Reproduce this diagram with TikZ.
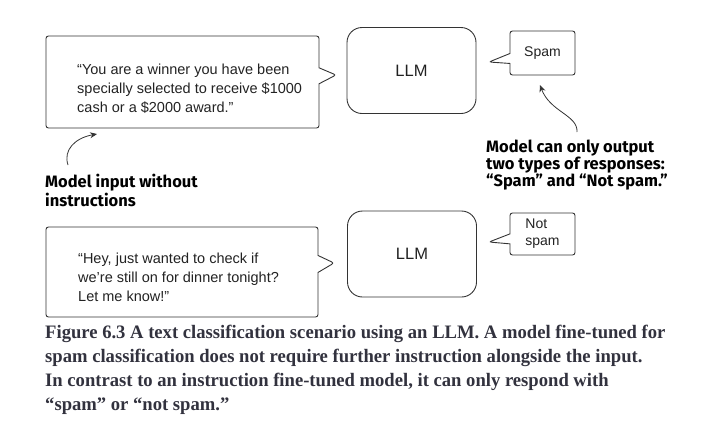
\documentclass[tikz,border=0pt]{standalone}
\usepackage{fontspec}
\setmainfont{Liberation Sans}
\newfontfamily\notefont{Fira Sans}
\newfontfamily\capfont[FakeStretch=0.98]{Liberation Serif}
\usetikzlibrary{shapes.callouts}
\usetikzlibrary{arrows.meta}
\definecolor{linegray}{RGB}{51,51,51}
\definecolor{textgray}{RGB}{34,34,34}
\definecolor{capgray}{RGB}{50,50,62}
\tikzset{
  bubble/.style={rectangle callout,draw=linegray,line width=0.9pt,rounded corners=2.5pt,outer sep=0pt,inner sep=0pt,text=textgray,font=\fontsize{14}{17}\selectfont,align=left},
  llmbox/.style={rectangle,draw=linegray,line width=0.9pt,rounded corners=15pt,minimum width=129pt,minimum height=86pt,text=textgray,font=\fontsize{16.5}{19}\selectfont},
  msgtext/.style={anchor=base west,align=left,inner sep=0pt,text=textgray,font=\fontsize{14.5}{19}\selectfont},
  note/.style={anchor=base west,align=left,inner sep=0pt,text=black,font=\notefont\bfseries\fontsize{16.5}{17}\selectfont},
  notearrow/.style={draw=linegray,line width=0.8pt,-{Stealth[length=7pt,width=6pt]}}
}

\begin{document}
\begin{tikzpicture}[x=1pt,y=-1pt]
\useasboundingbox (0,0) rectangle (711,429);
% spam message (text nodes sit on their last baseline)
\node[bubble,minimum width=273pt,minimum height=92pt,callout absolute pointer={(336,75)},callout pointer width=16pt] (msgA) at (182.5,82) {};
\node[msgtext] (msgAtext) at (77,112) {“You are a winner you have been\\specially selected to receive \$1000\\cash or a \$2000 award.”};
\node[llmbox] (llmA) at (411.5,70.5) {LLM};
\node[bubble,minimum width=65pt,minimum height=44pt,callout absolute pointer={(489,62)},callout pointer width=10pt] (outA) at (542.5,53) {Spam};
% normal message
\node[bubble,minimum width=272pt,minimum height=90pt,callout absolute pointer={(334,263)},callout pointer width=17pt] (msgB) at (182,272) {};
\node[msgtext] (msgBtext) at (78,301) {“Hey, just wanted to check if\\we're still on for dinner tonight?\\Let me know!”};
\node[llmbox] (llmB) at (412,254) {LLM};
\node[bubble,minimum width=65pt,minimum height=42pt,callout absolute pointer={(489,242)},callout pointer width=10pt] (outB) at (542.5,234) {Not\\spam};
% notes
\node[note] (noteA) at (45,206) {Model input without\\instructions};
\node[note] (noteB) at (486,186) {Model can only output\\two types of responses:\\“Spam” and “Not spam.”};
\coordinate (tailA) at (68,165);
\coordinate (tailB) at (577,132);
\draw[notearrow] (tailA) .. controls (63,150) and (75,138) .. ([xshift=-85.5pt,yshift=-6pt]msgA.south);
\draw[notearrow] (tailB) .. controls (578,115) and (550,112) .. ([xshift=-2.5pt,yshift=-10pt]outA.south);
% caption
\node[anchor=base west,align=left,inner sep=0pt,text=capgray,font=\capfont\bfseries\fontsize{19}{24}\selectfont] (caption) at (45,410) {Figure 6.3 A text classification scenario using an LLM. A model fine-tuned for\\spam classification does not require further instruction alongside the input.\\In contrast to an instruction fine-tuned model, it can only respond with\\“spam” or “not spam.”};
\end{tikzpicture}
\end{document}
